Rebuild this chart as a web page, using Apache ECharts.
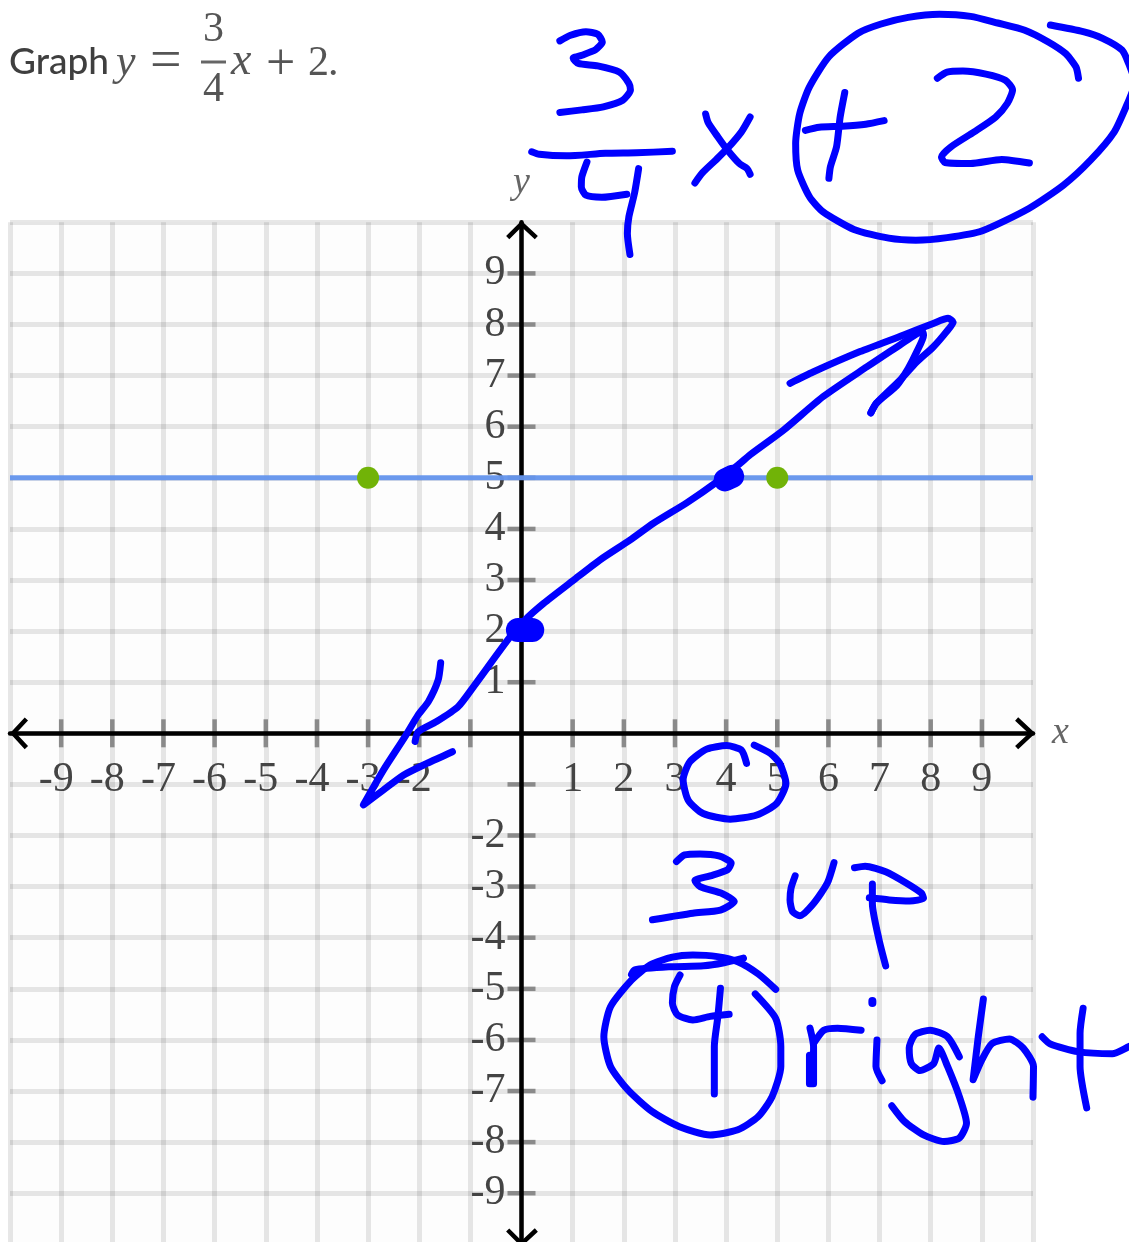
<!DOCTYPE html>
<html>
<head>
<meta charset="utf-8">
<style>html,body{margin:0;padding:0;background:#fff;overflow:hidden}#c{width:1129px;height:1242px}</style>
<script src="https://cdn.jsdelivr.net/npm/echarts@6/dist/echarts.min.js"></script>
</head>
<body>
<div id="c"></div>
<script>
// ---- axis content ----
const xTickValues = [-9,-8,-7,-6,-5,-4,-3,-2,-1,1,2,3,4,5,6,7,8,9];
const yTickValues = [-9,-8,-7,-6,-5,-4,-3,-2,-1,1,2,3,4,5,6,7,8,9];
const xTickLabels = ['-9','-8','-7','-6','-5','-4','-3','-2','1','2','3','4','5','6','7','8','9'];
const yTickLabels = ['-9','-8','-7','-6','-5','-4','-3','-2','1','2','3','4','5','6','7','8','9'];
// ---- plotted marks ----
const blueLine = [[-10,5],[10,5]];
const greenPoints = [[-3,5],[5,5]];
// ---- axis arrow heads ----
const arrowTop = [[-0.27,9.7],[0,9.97],[0.29,9.7]];
const arrowBottom = [[-0.27,-9.72],[0,-9.99],[0.29,-9.72]];
const arrowLeft = [[-9.68,0.28],[-9.94,0],[-9.68,-0.28]];
const arrowRight = [[9.68,0.28],[9.98,0],[9.68,-0.28]];
// ---- hand-drawn ink, in graph units ----
const inkThreeTop = [[0.75,13.55],[0.96,13.66],[1.26,13.73],[1.49,13.68],[1.58,13.53],[1.45,13.38],[1.18,13.27],[1.01,13.21],[1.11,13.11],[1.49,13.06],[1.91,12.94],[2.10,12.72],[2.13,12.59],[1.98,12.39],[1.60,12.26],[1.18,12.20],[0.75,12.15]];
const inkFractionBar = [[0.20,11.38],[0.35,11.33],[0.88,11.30],[1.64,11.35],[2.25,11.36],[2.95,11.39]];
const inkFourLeft = [[1.28,11.18],[1.18,10.89],[1.17,10.69],[1.26,10.53],[1.57,10.49],[2.06,10.55]];
const inkFourStem = [[2.29,11.05],[2.21,10.57],[2.10,10.11],[2.07,9.78],[2.12,9.37]];
const inkXOne = [[3.60,12.12],[3.65,11.95],[3.84,11.67],[4.03,11.41],[4.26,11.15],[4.41,11.05],[4.47,10.94]];
const inkXTwo = [[4.47,12.06],[4.30,11.77],[4.03,11.45],[3.80,11.22],[3.54,10.97],[3.39,10.77]];
const inkPlusV = [[6.32,12.54],[6.23,12.06],[6.16,11.48],[6.04,11.09],[6.01,10.86]];
const inkPlusH = [[5.55,11.80],[5.82,11.86],[6.27,11.88],[6.73,11.92],[7.09,11.99]];
const inkTwo = [[8.13,12.82],[8.32,12.94],[8.63,12.96],[9.08,12.90],[9.46,12.78],[9.60,12.59],[9.50,12.33],[9.27,12.06],[8.85,11.77],[8.40,11.48],[8.21,11.28],[8.28,11.17],[8.78,11.15],[9.39,11.23],[9.93,11.16]];
const inkBigCircle = [[10.89,12.82],[10.84,13.04],[10.64,13.30],[10.30,13.53],[9.84,13.76],[9.31,13.90],[8.78,14.03],[8.17,14.07],[7.56,14.01],[7.03,13.88],[6.58,13.70],[6.01,13.24],[5.63,12.65],[5.44,12.13],[5.36,11.54],[5.40,11.02],[5.63,10.50],[5.89,10.21],[6.50,9.86],[7.18,9.69],[7.71,9.65],[8.32,9.70],[9.00,9.83],[9.92,10.27],[10.60,10.73],[11.13,11.22],[11.59,11.77],[11.85,12.33],[11.99,12.68]];
const inkBigCircleEnd = [[10.34,13.86],[10.98,13.73],[11.36,13.60],[11.74,13.37],[11.87,13.11],[11.99,12.78]];
const inkMainLine = [[-2.08,-0.16],[-2.02,0.03],[-1.66,0.23],[-1.24,0.52],[-0.94,0.91],[-0.22,1.89],[0.07,2.22],[0.43,2.54],[1.01,2.99],[1.53,3.39],[2.12,3.78],[2.58,4.11],[3.23,4.51],[3.82,4.92],[4.27,5.28],[4.47,5.45],[5.12,5.93],[5.90,6.59],[6.75,7.17],[7.40,7.60],[7.84,7.86],[7.86,7.79],[7.73,7.47],[7.56,7.14],[7.34,6.81],[6.94,6.46],[6.83,6.27]];
const inkUpperBarb = [[5.25,6.85],[5.70,7.07],[6.62,7.47],[7.46,7.79],[8.05,8.02],[8.34,8.12],[8.44,8.05],[8.31,7.86],[8.05,7.56],[7.73,7.27],[7.40,6.91],[6.94,6.46],[6.83,6.27]];
const inkLowerArrow = [[-1.58,1.38],[-1.63,1.04],[-1.82,0.62],[-2.02,0.36],[-2.28,-0.07],[-2.70,-0.72],[-3.09,-1.40],[-2.70,-1.11],[-2.31,-0.82],[-1.85,-0.59],[-1.35,-0.36]];
const inkSmallCircle = [[4.40,-0.59],[4.30,-0.33],[4.01,-0.24],[3.62,-0.31],[3.29,-0.56],[3.16,-0.91],[3.26,-1.31],[3.55,-1.57],[4.08,-1.68],[4.60,-1.60],[4.99,-1.37],[5.17,-0.98],[5.05,-0.59],[4.86,-0.39],[4.55,-0.23]];
const inkThreeLow = [[3.03,-2.51],[3.19,-2.38],[3.49,-2.36],[3.86,-2.40],[4.10,-2.54],[4.03,-2.67],[3.69,-2.79],[3.39,-2.88],[3.49,-3.00],[3.93,-3.14],[4.16,-3.29],[3.89,-3.46],[3.35,-3.52],[2.92,-3.59],[2.56,-3.65]];
const inkU = [[5.35,-2.79],[5.27,-3.03],[5.25,-3.26],[5.30,-3.49],[5.44,-3.57],[5.71,-3.33],[5.98,-2.93],[6.11,-2.53]];
const inkPTop = [[6.51,-2.63],[6.72,-2.60],[7.12,-2.71],[7.52,-2.93],[7.82,-3.13],[7.86,-3.23],[7.59,-3.28],[7.19,-3.26],[6.80,-3.22]];
const inkPStem = [[6.86,-2.95],[6.86,-3.33],[6.99,-4.04],[7.12,-4.55]];
const inkCap = [[2.15,-4.72],[2.21,-4.63],[2.89,-4.57],[3.56,-4.55],[3.96,-4.49],[4.34,-4.40]];
const inkFourCircle = [[4.97,-5.01],[4.63,-4.71],[4.23,-4.47],[3.83,-4.37],[3.35,-4.34],[2.95,-4.38],[2.52,-4.53],[2.15,-4.83],[1.74,-5.35],[1.61,-5.94],[1.74,-6.52],[2.08,-6.98],[2.55,-7.40],[3.09,-7.70],[3.69,-7.86],[4.23,-7.76],[4.63,-7.50],[4.90,-7.11],[5.07,-6.52],[5.07,-6.13],[4.97,-5.58],[4.57,-5.10]];
const inkFourInLeft = [[3.10,-4.73],[2.99,-4.96],[2.95,-5.28],[3.05,-5.51],[3.35,-5.61],[3.69,-5.54],[4.06,-5.50]];
const inkFourInStem = [[3.89,-4.99],[3.84,-5.54],[3.77,-6.13],[3.77,-7.06]];
const inkRStem = [[5.64,-5.77],[5.71,-6.13],[5.71,-6.86],[5.63,-6.86],[5.63,-6.30]];
const inkRArm = [[5.71,-6.07],[5.91,-5.81],[6.18,-5.77],[6.64,-5.81]];
const inkIDot = [[6.86,-5.24],[6.86,-5.28]];
const inkIStem = [[6.95,-6.00],[6.93,-6.52],[7.05,-6.80]];
const inkG = [[8.56,-6.33],[8.33,-5.94],[7.99,-5.81],[7.69,-5.90],[7.58,-6.16],[7.62,-6.46],[7.79,-6.60],[8.06,-6.46],[8.16,-6.16],[8.33,-6.52],[8.56,-7.11],[8.70,-7.63],[8.56,-7.92],[8.26,-7.99],[7.86,-7.86],[7.49,-7.60],[7.24,-7.29]];
const inkH = [[9.03,-5.20],[8.93,-5.94],[8.83,-6.78],[9.00,-6.39],[9.20,-6.07],[9.54,-5.98],[9.81,-6.16],[10.01,-6.52],[10.00,-7.12]];
const inkTStem = [[10.98,-5.38],[10.92,-5.87],[10.92,-6.52],[11.05,-7.33]];
const inkTBar = [[10.18,-5.94],[10.34,-6.08],[10.88,-6.23],[11.55,-6.27],[11.88,-6.13],[12.01,-6.08]];
const inkBlobTwo = [[-0.07,2.02],[0.21,2.02]];
const inkBlobFour = [[3.98,4.96],[4.13,5.03]];

const inkStrokes = [inkThreeTop,inkFractionBar,inkFourLeft,inkFourStem,inkXOne,inkXTwo,inkPlusV,inkPlusH,inkTwo,inkBigCircle,inkBigCircleEnd,inkMainLine,inkUpperBarb,inkLowerArrow,inkSmallCircle,inkThreeLow,inkU,inkPTop,inkPStem,inkCap,inkFourCircle,inkFourInLeft,inkFourInStem,inkRStem,inkRArm,inkIStem,inkG,inkH,inkTStem,inkTBar];
const axisArrows = [arrowTop,arrowBottom,arrowLeft,arrowRight];

const INK = '#0000ff';
const SERIF = '"Liberation Serif", serif';
const LABEL = {fontFamily: SERIF, fontSize: 42, color: '#444'};

function inkSeries(data, width) {
  return {type:'line', data, xAxisIndex:1, yAxisIndex:1, clip:false, silent:true, symbol:'none', smooth:0.22, z:6,
    lineStyle:{color:INK, width, cap:'round', join:'round'}};
}
function serifText(text, x, baseline, size, italic, color) {
  return {type:'text', x, y:baseline, silent:true, style:{text, fontFamily:SERIF, fontSize:size,
    fontStyle: italic ? 'italic' : 'normal', fill: color || '#555', textVerticalAlign:'bottom'}};
}

const series = [
  {type:'scatter', data:xTickValues.map(v=>[v,0]), symbol:'rect', symbolSize:[4.5,28], silent:true,
   itemStyle:{color:'#808080'}, z:0.5},
  {type:'scatter', data:yTickValues.map(v=>[0,v]), symbol:'rect', symbolSize:[28,4.5], silent:true,
   itemStyle:{color:'#808080'}, z:0.5},
  ...axisArrows.map(a=>({type:'line', data:a, clip:false, silent:true, symbol:'none', z:2,
     lineStyle:{color:'#000', width:4.5, cap:'butt', join:'miter'}})),
  {type:'line', data:blueLine, silent:true, symbol:'none', z:3, lineStyle:{color:'#6495ed', width:5, opacity:0.95}},
  {type:'scatter', data:greenPoints, symbol:'circle', symbolSize:22, silent:true, itemStyle:{color:'#71b307', opacity:1}, z:4},
  ...inkStrokes.map(d=>inkSeries(d,7)),
  inkSeries(inkIDot,8),
  inkSeries(inkBlobTwo,24),
  inkSeries(inkBlobFour,23)
];

const splitLine = {show:true, showMinLine:true, showMaxLine:true, lineStyle:{color:'rgba(0,0,0,0.095)', width:5}};

const chart = echarts.init(document.getElementById('c'), null, {renderer:'canvas', width:1129, height:1242});
chart.setOption({
  animation:false,
  backgroundColor:'#ffffff',
  grid:[
    {show:true, left:10, top:222.3, width:1023, height:1022, backgroundColor:'#fdfdfd', borderWidth:0, z:-2, outerBoundsMode:'none', containLabel:false},
    {show:false, left:10, top:2.57, width:1130.4, height:1241.73, outerBoundsMode:'none', containLabel:false}
  ],
  xAxis:[
    {type:'value', min:-10, max:10, interval:1, z:1, gridIndex:0, position:'bottom', offset:-511,
    name:'x', nameLocation:'end', nameGap:19,
    nameTextStyle:{fontFamily:SERIF, fontStyle:'italic', fontSize:38, color:'#666', verticalAlign:'middle', padding:[8,0,0,0]},
    axisLine:{onZero:false, lineStyle:{color:'#000', width:4.5}},
    axisTick:{show:false}, splitLine,
    axisLabel:{...LABEL, margin:26, showMinLabel:true, showMaxLabel:true, hideOverlap:false,
      rich:{neg:{...LABEL, padding:[0,10,0,0]}},
      formatter:v=>{const s=String(v); if(!xTickLabels.includes(s)) return ''; return v<0?`{neg|${s}}`:s;}}},
    {type:'value', min:-10, max:12.1, gridIndex:1, show:false}
  ],
  yAxis:[
    {type:'value', min:-10, max:10, interval:1, z:1, gridIndex:0, position:'left', offset:-511.5,
    name:'y', nameLocation:'end', nameGap:20,
    nameTextStyle:{fontFamily:SERIF, fontStyle:'italic', fontSize:38, color:'#666', align:'center'},
    axisLine:{onZero:false, lineStyle:{color:'#000', width:4.5}},
    axisTick:{show:false}, splitLine,
    axisLabel:{...LABEL, margin:16, hideOverlap:false,
      formatter:v=>{const s=String(v); return yTickLabels.includes(s)?s:'';}}},
    {type:'value', min:-10, max:14.3, gridIndex:1, show:false}
  ],
  series,
  graphic:[
    {type:'text', x:9, y:81, silent:true, style:{text:'Graph', fontFamily:'Lato', fontSize:37, fontWeight:500, fill:'#3f3f3f', textVerticalAlign:'bottom'}},
    serifText('y',116,85,44,true),
    serifText('=',150,91,56,false),
    serifText('3',203,51,42,false),
    {type:'rect', silent:true, shape:{x:201,y:60.5,width:25,height:3}, style:{fill:'#666'}},
    serifText('4',203,111,42,false),
    serifText('x',231,85,46,true),
    serifText('+',266,91,52,false),
    serifText('2',308,85,42,false),
    serifText('.',328,85,42,false)
  ]
});
</script>
</body>
</html>
